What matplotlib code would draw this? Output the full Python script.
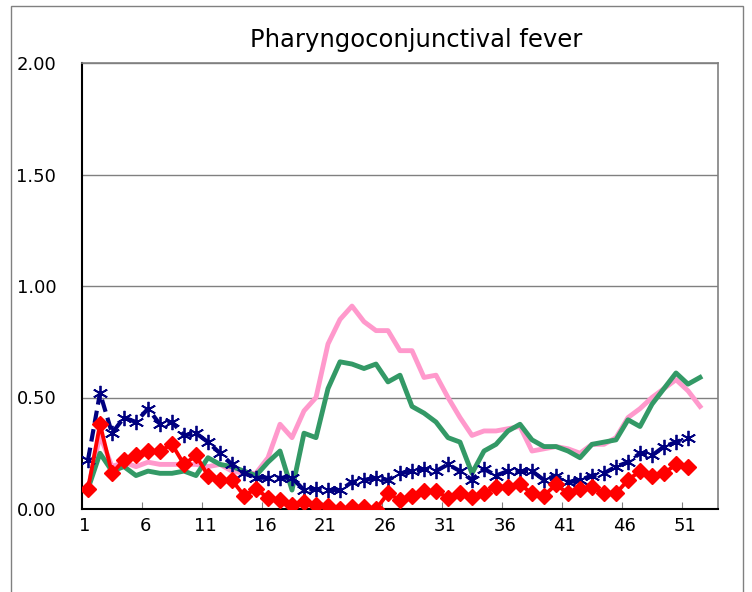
import matplotlib.pyplot as plt
from matplotlib.patches import Rectangle

# weekly values
weeks_a = list(range(1, 52))   # navy and red series (51 weeks)
weeks_b = list(range(1, 53))   # green and pink series (52 weeks)

navy = [0.22, 0.52, 0.34, 0.41, 0.39, 0.45, 0.38, 0.39, 0.33, 0.34,
        0.30, 0.25, 0.20, 0.16, 0.14, 0.14, 0.14, 0.14, 0.085, 0.09,
        0.085, 0.085, 0.12, 0.13, 0.14, 0.13, 0.16, 0.17, 0.18, 0.17,
        0.20, 0.17, 0.13, 0.18, 0.15, 0.17, 0.17, 0.17, 0.13, 0.15,
        0.12, 0.13, 0.15, 0.16, 0.19, 0.21, 0.25, 0.24, 0.28, 0.30,
        0.32]

red = [0.09, 0.38, 0.16, 0.22, 0.24, 0.26, 0.26, 0.29, 0.20, 0.24,
       0.15, 0.13, 0.13, 0.06, 0.09, 0.05, 0.04, 0.02, 0.03, 0.02,
       0.015, 0.0, 0.01, 0.01, 0.0, 0.07, 0.04, 0.06, 0.08, 0.08,
       0.05, 0.07, 0.055, 0.07, 0.10, 0.10, 0.11, 0.07, 0.06, 0.11,
       0.07, 0.09, 0.10, 0.07, 0.07, 0.13, 0.17, 0.15, 0.16, 0.20,
       0.19]

green = [0.09, 0.25, 0.17, 0.19, 0.15, 0.17, 0.16, 0.16, 0.17, 0.15,
         0.23, 0.20, 0.19, 0.17, 0.15, 0.21, 0.26, 0.085, 0.34, 0.32,
         0.54, 0.66, 0.65, 0.63, 0.65, 0.57, 0.60, 0.46, 0.43, 0.39,
         0.32, 0.30, 0.16, 0.26, 0.29, 0.35, 0.38, 0.31, 0.28, 0.28,
         0.26, 0.23, 0.29, 0.30, 0.31, 0.40, 0.37, 0.47, 0.54, 0.61,
         0.56, 0.59]

pink = [0.09, 0.33, 0.19, 0.21, 0.19, 0.21, 0.20, 0.20, 0.20, 0.20,
        0.19, 0.20, 0.17, 0.16, 0.16, 0.23, 0.38, 0.32, 0.44, 0.50,
        0.74, 0.85, 0.91, 0.84, 0.80, 0.80, 0.71, 0.71, 0.59, 0.60,
        0.50, 0.41, 0.33, 0.35, 0.35, 0.36, 0.37, 0.26, 0.27, 0.28,
        0.27, 0.25, 0.29, 0.29, 0.32, 0.41, 0.45, 0.50, 0.54, 0.58,
        0.53, 0.46]

xlabels = [1, 6, 11, 16, 21, 26, 31, 36, 41, 46, 51]
yticks = [0.0, 0.5, 1.0, 1.5, 2.0]

plt.rcParams['font.family'] = ['DejaVu Sans']

fig = plt.figure(figsize=(7.52, 5.92), dpi=100)
ax = fig.add_axes([82/752, 1-509/592, 636/752, 446/592])

# outer chart border
fig.patches.append(Rectangle((11/752, -0.05), 732/752, 1.04,
                             transform=fig.transFigure, fill=False,
                             edgecolor='#808080', lw=1.0))

ax.plot(weeks_b, pink, color='#FF99CC', lw=3.5, zorder=2)
ax.plot(weeks_b, green, color='#339966', lw=3.5, zorder=3)
ax.plot(weeks_a, navy, color='#000080', lw=3, ls=(0, (3, 1.5)),
        marker=(6, 2, 0), ms=11, mew=1.3, zorder=4)
ax.plot(weeks_a, red, color='#FF0000', lw=2.8, marker='D', ms=8,
        mec='#FF0000', zorder=5)

ax.set_xlim(0.5, 53.5)
ax.set_ylim(0, 2)

ax.set_yticks(yticks)
ax.set_yticklabels(['%.2f' % v for v in yticks], fontsize=13)
ax.tick_params(axis='y', length=0, pad=18.5)
ax.yaxis.grid(True, color='#808080', lw=1)
ax.set_axisbelow(True)

# tick marks between categories, labels at categories
ax.set_xticks([w + 0.5 for w in range(5, 53, 5)])
ax.set_xticklabels([])
ax.tick_params(axis='x', which='major', direction='in', length=5,
               color='#808080')
ax.set_xticks([w - 0.25 for w in xlabels], minor=True)
ax.set_xticklabels([str(w) for w in xlabels], minor=True, fontsize=13)
ax.tick_params(axis='x', which='minor', length=0, pad=6)

for s in ['top', 'right']:
    ax.spines[s].set_color('#808080')
    ax.spines[s].set_linewidth(1.2)
for s in ['left', 'bottom']:
    ax.spines[s].set_color('black')
    ax.spines[s].set_linewidth(1.5)

fig.text(416/752, 1-40/592, 'Pharyngoconjunctival fever', ha='center',
         va='center', fontsize=17.5)

fig.savefig('out.png', dpi=100)
